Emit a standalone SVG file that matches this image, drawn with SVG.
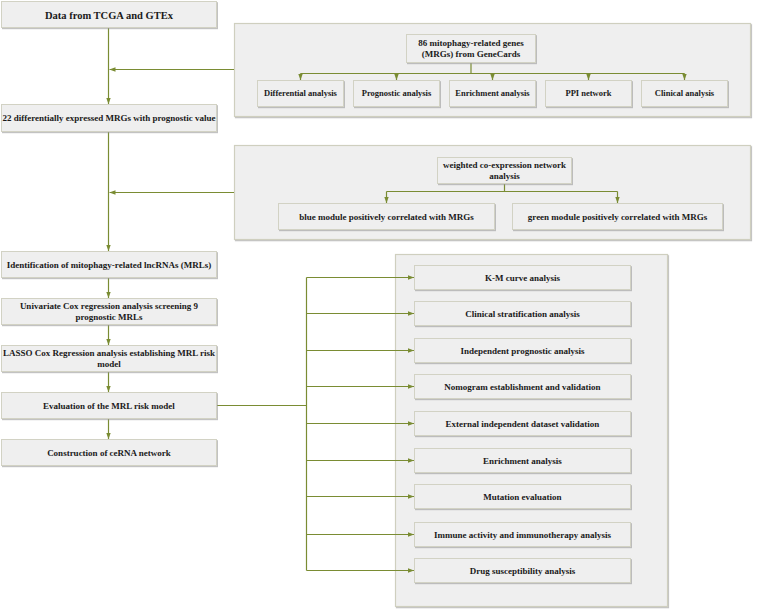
<svg xmlns="http://www.w3.org/2000/svg" width="777" height="609" viewBox="0 0 777 609">
<defs>
<style>
.box{fill:#efefef;stroke:#d2d2c4;stroke-width:1;filter:url(#sh)}
.panel{fill:#efefef;stroke:#cfcfbf;stroke-width:1.2;filter:url(#sh)}
.t{font-family:"Liberation Serif","Times New Roman",serif;font-weight:bold;font-size:9px;fill:#1a1a1a;text-anchor:middle}
.s{font-size:8.5px}
.big{font-size:10.5px}
.c{fill:none;stroke:#7a8c33;stroke-width:1.2}
</style>
<filter id="sh" x="-5%" y="-10%" width="110%" height="130%">
<feDropShadow dx="1" dy="1.2" stdDeviation="0.6" flood-color="#9a9a9a" flood-opacity="0.6"/>
</filter>
<marker id="ah" markerUnits="userSpaceOnUse" markerWidth="6" markerHeight="6" viewBox="0 0 6 6" refX="6" refY="3" orient="auto">
<path d="M0,0.8 L6,3 L0,5.2 Z" fill="#7a8c33"/>
</marker>
</defs>
<rect width="777" height="609" fill="#ffffff"/>

<g id="panel1"><rect class="panel" x="234.5" y="23.5" width="516" height="93"/></g>
<g id="panel2"><rect class="panel" x="234.5" y="145.5" width="516" height="94"/></g>
<g id="panel3"><rect class="panel" x="395.5" y="254.5" width="272" height="352"/></g>

<g id="connectors">
<path class="c" d="M108.5,27 V104" marker-end="url(#ah)"/>
<path class="c" d="M234,69.5 H109.5" marker-end="url(#ah)"/>
<path class="c" d="M108.5,132 V251" marker-end="url(#ah)"/>
<path class="c" d="M234,192.5 H109.5" marker-end="url(#ah)"/>
<path class="c" d="M108.5,278 V298" marker-end="url(#ah)"/>
<path class="c" d="M108.5,325 V345" marker-end="url(#ah)"/>
<path class="c" d="M108.5,372 V392" marker-end="url(#ah)"/>
<path class="c" d="M108.5,419 V439" marker-end="url(#ah)"/>
<path class="c" d="M471,63 V73.5 M300.5,73.5 H684.5"/>
<path class="c" d="M300.5,73.5 V80" marker-end="url(#ah)"/>
<path class="c" d="M396.5,73.5 V80" marker-end="url(#ah)"/>
<path class="c" d="M492.5,73.5 V80" marker-end="url(#ah)"/>
<path class="c" d="M588.5,73.5 V80" marker-end="url(#ah)"/>
<path class="c" d="M684.5,73.5 V80" marker-end="url(#ah)"/>
<path class="c" d="M504.5,184 V191.5 M386.5,191.5 H617.5"/>
<path class="c" d="M386.5,191.5 V203" marker-end="url(#ah)"/>
<path class="c" d="M617.5,191.5 V203" marker-end="url(#ah)"/>
<path class="c" d="M217,405.5 H306.5 M306.5,277.5 V570.5"/>
<path class="c" d="M306.5,277.5 H414" marker-end="url(#ah)"/>
<path class="c" d="M306.5,313.5 H414" marker-end="url(#ah)"/>
<path class="c" d="M306.5,350.5 H414" marker-end="url(#ah)"/>
<path class="c" d="M306.5,386.5 H414" marker-end="url(#ah)"/>
<path class="c" d="M306.5,423.5 H414" marker-end="url(#ah)"/>
<path class="c" d="M306.5,460.5 H414" marker-end="url(#ah)"/>
<path class="c" d="M306.5,496.5 H414" marker-end="url(#ah)"/>
<path class="c" d="M306.5,534.5 H414" marker-end="url(#ah)"/>
<path class="c" d="M306.5,570.5 H414" marker-end="url(#ah)"/>
</g>

<g id="n-data"><rect class="box" x="1.5" y="1.5" width="215" height="26"/><text class="t big" x="109" y="18.5">Data from TCGA and GTEx</text></g>
<g id="n-22"><rect class="box" x="1.5" y="104.5" width="215" height="27"/><text class="t" x="109" y="121">22 differentially expressed MRGs with prognostic value</text></g>
<g id="n-ident"><rect class="box" x="1.5" y="251.5" width="215" height="26"/><text class="t" x="109" y="267.5">Identification of mitophagy-related lncRNAs (MRLs)</text></g>
<g id="n-univ"><rect class="box" x="1.5" y="298.5" width="215" height="26"/><text class="t" x="109" y="309">Univariate Cox regression analysis screening 9</text><text class="t" x="109" y="320">prognostic MRLs</text></g>
<g id="n-lasso"><rect class="box" x="1.5" y="345.5" width="215" height="26"/><text class="t" x="109" y="356">LASSO Cox Regression analysis establishing MRL risk</text><text class="t" x="109" y="367">model</text></g>
<g id="n-eval"><rect class="box" x="1.5" y="392.5" width="215" height="26"/><text class="t" x="109" y="408.5">Evaluation of the MRL risk model</text></g>
<g id="n-cerna"><rect class="box" x="1.5" y="439.5" width="215" height="26"/><text class="t" x="109" y="455.5">Construction of ceRNA network</text></g>

<g id="n-86"><rect class="box" x="406.5" y="34.5" width="129" height="28"/><text class="t" x="471" y="46">86 mitophagy-related genes</text><text class="t" x="471" y="57">(MRGs) from GeneCards</text></g>
<g id="n-diff"><rect class="box" x="257.5" y="80.5" width="86" height="26"/><text class="t s" x="300.5" y="96">Differential analysis</text></g>
<g id="n-prog"><rect class="box" x="353.5" y="80.5" width="86" height="26"/><text class="t s" x="396.5" y="96">Prognostic analysis</text></g>
<g id="n-enr1"><rect class="box" x="449.5" y="80.5" width="86" height="26"/><text class="t s" x="492.5" y="96">Enrichment analysis</text></g>
<g id="n-ppi"><rect class="box" x="545.5" y="80.5" width="86" height="26"/><text class="t s" x="588.5" y="96">PPI network</text></g>
<g id="n-clin"><rect class="box" x="641.5" y="80.5" width="86" height="26"/><text class="t s" x="684.5" y="96">Clinical analysis</text></g>

<g id="n-wgcna"><rect class="box" x="437.5" y="157.5" width="134" height="26"/><text class="t" x="504.5" y="168">weighted co-expression network</text><text class="t" x="504.5" y="179">analysis</text></g>
<g id="n-blue"><rect class="box" x="278.5" y="203.5" width="216" height="26"/><text class="t" x="386.5" y="219.5">blue module positively correlated with MRGs</text></g>
<g id="n-green"><rect class="box" x="512.5" y="203.5" width="210" height="26"/><text class="t" x="617.5" y="219.5">green module positively correlated with MRGs</text></g>

<g id="n-km"><rect class="box" x="414.5" y="265.5" width="216" height="24"/><text class="t" x="522.5" y="280.5">K-M curve analysis</text></g>
<g id="n-cs"><rect class="box" x="414.5" y="301.5" width="216" height="24"/><text class="t" x="522.5" y="316.5">Clinical stratification analysis</text></g>
<g id="n-ip"><rect class="box" x="414.5" y="338.5" width="216" height="24"/><text class="t" x="522.5" y="353.5">Independent prognostic analysis</text></g>
<g id="n-nom"><rect class="box" x="414.5" y="374.5" width="216" height="24"/><text class="t" x="522.5" y="389.5">Nomogram establishment and validation</text></g>
<g id="n-ext"><rect class="box" x="414.5" y="411.5" width="216" height="24"/><text class="t" x="522.5" y="426.5">External independent dataset validation</text></g>
<g id="n-enr2"><rect class="box" x="414.5" y="448.5" width="216" height="24"/><text class="t" x="522.5" y="463.5">Enrichment analysis</text></g>
<g id="n-mut"><rect class="box" x="414.5" y="484.5" width="216" height="24"/><text class="t" x="522.5" y="499.5">Mutation evaluation</text></g>
<g id="n-imm"><rect class="box" x="414.5" y="522.5" width="216" height="24"/><text class="t" x="522.5" y="537.5">Immune activity and immunotherapy analysis</text></g>
<g id="n-drug"><rect class="box" x="414.5" y="558.5" width="216" height="24"/><text class="t" x="522.5" y="573.5">Drug susceptibility analysis</text></g>
</svg>
